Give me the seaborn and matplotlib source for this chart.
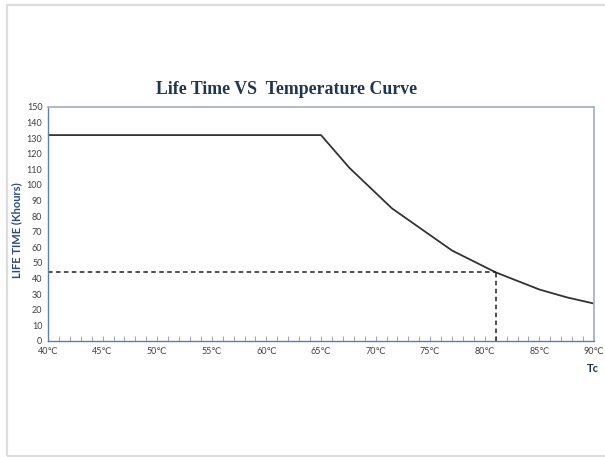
import matplotlib
matplotlib.use("Agg")
import matplotlib.pyplot as plt
import seaborn as sns
import pandas as pd
from matplotlib.patches import Rectangle
from matplotlib.ticker import MultipleLocator

# Data
temps = [40, 65, 67.6, 71.5, 77, 81, 85, 87.5, 90]
life_khours = [132, 132, 111, 85, 58, 44, 33, 28, 24]
ref_temp = 81
ref_life = 44
x_ticks = [40, 45, 50, 55, 60, 65, 70, 75, 80, 85, 90]
x_tick_labels = [f"{t}\u2103" for t in x_ticks]
y_ticks = list(range(0, 151, 10))

df = pd.DataFrame({"Tc": temps, "Life": life_khours})

sns.set_style("white")
plt.rcParams["font.family"] = ["Lato", "DejaVu Sans"]

fig = plt.figure(figsize=(6.05, 4.57), dpi=100)
W, H = 605, 457
ax = fig.add_axes([48 / W, (H - 341) / H, (594 - 48) / W, (341 - 107) / H])

sns.lineplot(data=df, x="Tc", y="Life", ax=ax, color="#333333", linewidth=1.3)
ax.plot([40, ref_temp], [ref_life, ref_life], color="#222222", lw=1.1, dashes=(3, 2.2))
ax.plot([ref_temp, ref_temp], [0, ref_life], color="#222222", lw=1.1, dashes=(3, 2.2))

ax.set_xlim(40, 90)
ax.set_ylim(0, 150)
ax.set_xticks(x_ticks)
ax.set_xticklabels(x_tick_labels)
ax.set_yticks(y_ticks)
ax.xaxis.set_minor_locator(MultipleLocator(1))
ax.tick_params(axis="x", which="both", direction="in", length=3.5, width=0.7,
               color="#9aa8ba", bottom=True, labelsize=6.5, labelcolor="#404040", pad=4)
ax.tick_params(axis="y", length=0, labelsize=6.5, labelcolor="#404040", pad=4)
ax.set_xlabel("")
ax.set_ylabel("")

for s in ["left", "bottom"]:
    ax.spines[s].set_color("#5b7fa6")
    ax.spines[s].set_linewidth(1.0)
for s in ["top", "right"]:
    ax.spines[s].set_color("#a7b4c4")
    ax.spines[s].set_linewidth(1.3)

fig.text(287 / W, 1 - 90 / H, "Life Time VS  Temperature Curve", ha="center", va="center",
         fontsize=12.8, fontweight="bold", family=["Liberation Serif", "DejaVu Serif"],
         color="#1f3550")
fig.text(17 / W, 1 - 230 / H, "LIFE TIME (Khours)", rotation=90, ha="center", va="center",
         fontsize=8, fontweight="bold", color="#2a4a7c")
fig.text(593 / W, 1 - 368 / H, "Tc", ha="center", va="center",
         fontsize=8, fontweight="bold", color="#1f3550")

fig.add_artist(Rectangle((6.5 / W, 1.0 / H), 0.999, 1 - 5.5 / H, transform=fig.transFigure,
                         fill=False, edgecolor="#dcdcdc", linewidth=1.6))

fig.savefig("out.png", dpi=100)
